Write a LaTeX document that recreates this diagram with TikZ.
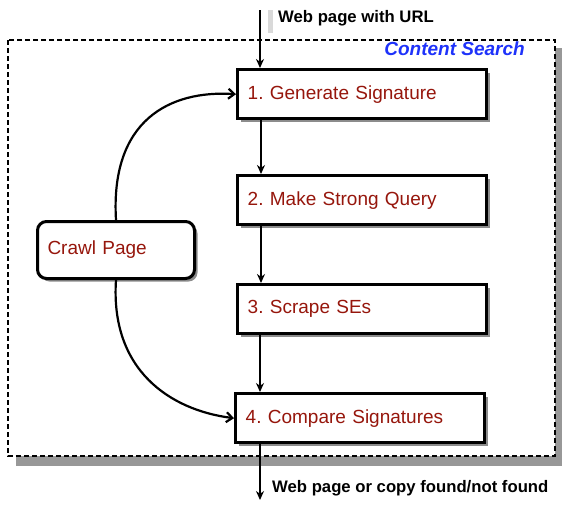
\documentclass[tikz,border=0pt]{standalone}
\usepackage{fontspec}
\setmainfont{Liberation Sans}
\usetikzlibrary{shadows,arrows.meta}
\definecolor{stepred}{RGB}{150,22,12}
\definecolor{csblue}{RGB}{30,50,250}
\frenchspacing
\tikzset{
  stepbox/.style={draw=black, line width=3.4pt, fill=white, minimum width=249pt, minimum height=49pt,
    text width=229pt, align=left, inner sep=0pt, anchor=north west, text=stepred,
    font=\fontsize{19}{22}\selectfont,
    drop shadow={shadow xshift=3pt, shadow yshift=-3pt, fill=black, opacity=0.45}},
  crawlbox/.style={draw=black, line width=3pt, fill=white, rounded corners=9pt, minimum width=157pt,
    minimum height=57pt, text width=137pt, align=left, inner sep=0pt, anchor=north west, text=stepred,
    font=\fontsize{19}{22}\selectfont,
    drop shadow={shadow xshift=3pt, shadow yshift=-3pt, fill=black, opacity=0.45}},
  flow/.style={draw=black, line width=2.2pt, -{Stealth[length=9pt,width=8pt]}},
  curvearrow/.style={draw=black, line width=2.2pt, -{Straight Barb[length=6pt,width=10pt]}},
  lbl/.style={font=\bfseries\fontsize{16.7}{19}\selectfont, anchor=west, inner sep=0pt}
}
\begin{document}
\begin{tikzpicture}[x=1pt,y=-1pt]
\useasboundingbox (0,0) rectangle (562,504);
% dashed container with shadow
\fill[gray!85!black!70] (16,456) rectangle (563,466);
\fill[gray!85!black!70] (555,48) rectangle (563,466);
\draw[line width=1.2pt, dash pattern=on 5pt off 3pt] (8,40) rectangle (555,456);
\node[font=\bfseries\itshape\fontsize{19}{22}\selectfont, text=csblue, anchor=east, inner sep=0pt] (cs) at (525,49) {Content Search};

\node[stepbox] (s1) at (236,68) {1. Generate Signature};
\node[stepbox] (s2) at (236,174) {2. Make Strong Query};
\node[stepbox] (s3) at (236,283) {3. Scrape SEs};
\node[stepbox] (s4) at (234,392) {4. Compare Signatures};
\node[crawlbox] (cp) at (36,220) {Crawl Page};

\coordinate (in) at (260,10);
\coordinate (out) at (260,500);
\fill[gray!30] (268,10) rectangle (273,33);
\draw[flow] (in) -- (s1.north -| in);
\node[lbl] (l1) at (278,18) {Web page with URL};
\draw[flow] (s1.south -| 261,0) -- (s2.north -| 261,0);
\draw[flow] (s2.south -| 261,0) -- (s3.north -| 261,0);
\draw[flow] (s3.south -| 260,0) -- (s4.north -| 260,0);
\draw[flow] (s4.south -| out) -- (out);
\node[lbl] (l2) at (272,488) {Web page or copy found/not found};

\draw[curvearrow] (cp.north -| 116,0) .. controls (110,120) and (170,90) .. (s1.west);
\draw[curvearrow] (cp.south -| 116,0) .. controls (110,370) and (170,410) .. (s4.west);
\end{tikzpicture}
\end{document}
